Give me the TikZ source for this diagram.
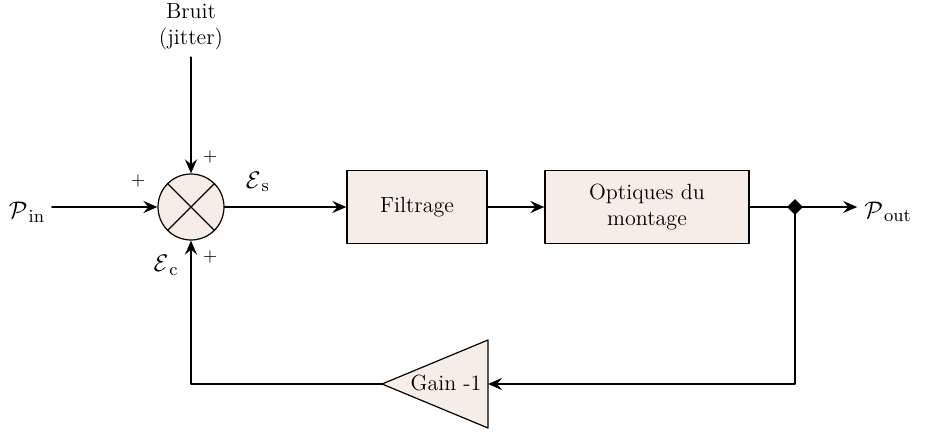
\documentclass[tikz,border=0pt]{standalone}
\usetikzlibrary{arrows.meta,shapes.geometric}
\definecolor{blockfill}{RGB}{246,237,230}

\begin{document}
\begin{tikzpicture}[x=.5pt,y=-.5pt,line cap=round,line join=round,
  every node/.style={font=\fontsize{11}{13}\selectfont},
  block/.style={draw,line width=.6pt,fill=blockfill,minimum height=36.5pt,align=center},
  sumnode/.style={circle,draw,line width=.6pt,fill=blockfill,minimum size=33pt,inner sep=0pt},
  wire/.style={line width=1.1pt},
  arr/.style={wire,-{Stealth[length=7pt,width=6pt,inset=2.5pt]}},
  junc/.style={diamond,fill=black,inner sep=2pt},
  sign/.style={font=\small},
  sym/.style={font=\fontsize{12.5}{14}\selectfont}]

\useasboundingbox (0,0) rectangle (926,433);

% Summation point with its cross.
\node[sumnode] (sum) at (191,207) {};
\draw[line width=.6pt] (sum.45)--(sum.225) (sum.135)--(sum.315);

% Inputs: power in and the noise from above.
\node[sym] (pin) at (27,212) {$\mathcal{P}_{\,\mathrm{in}}$};
\node[align=center] (bruit) at (191,27) {Bruit\\(jitter)};
\draw[arr] (pin.east|-sum.west)--(sum.west);
\draw[arr] (bruit.south)--(sum.north);
\node[sign] (pinplus) at (138,181) {+};
\node[sign] (bplus) at (210,157) {+};
\node[sign] (cplus) at (210,257) {+};
\node[sym] (es) at (258,182) {$\mathcal{E}_{\,\mathrm{s}}$};
\node[sym] (ec) at (166,265) {$\mathcal{E}_{\,\mathrm{c}}$};

% Forward chain.
\node[block,minimum width=70pt] (filt) at (417,207) {Filtrage};
\node[block,minimum width=102pt] (opt) at (647,207) {Optiques du\\montage};
\draw[arr] (sum.east)--(filt.west);
\draw[arr] (filt.east)--(opt.west);
\node[junc] (jn) at (795,207) {};
\node[sym] (pout) at (888,212) {$\mathcal{P}_{\,\mathrm{out}}$};
\draw[wire] (opt.east)--(jn.center);
\draw[arr] (jn.center)--(pout.west|-jn.center);

% Feedback through the gain stage.
\coordinate (gT) at (488,340);
\coordinate (gB) at (488,428);
\coordinate (gA) at (382,384);
\draw[line width=.6pt,fill=blockfill] (gT)--(gB)--(gA)--cycle;
\node (gain) at (446,383) {Gain -1};
\coordinate (fbR) at (795,384);
\coordinate (fbL) at (191,384);
\draw[arr] (jn.center)--(fbR)--(488,384);
\draw[arr] (gA)--(fbL)--(sum.south);
\end{tikzpicture}
\end{document}
